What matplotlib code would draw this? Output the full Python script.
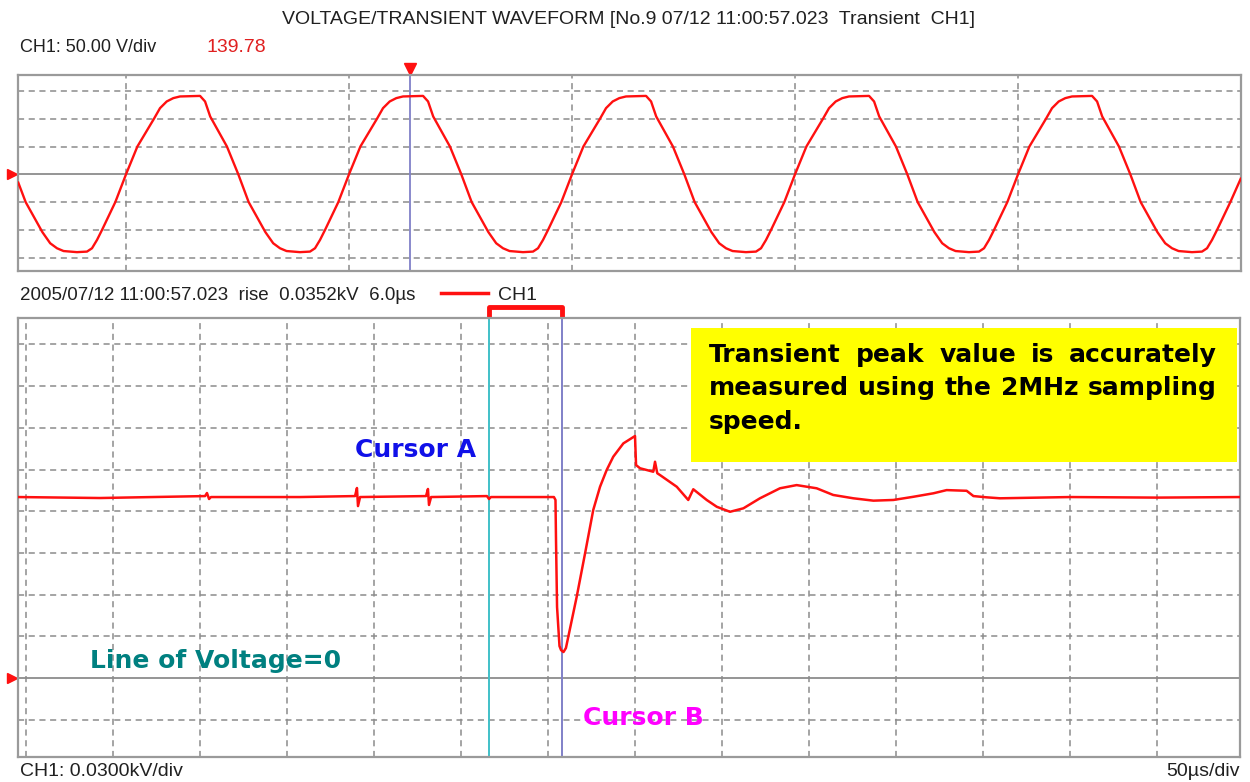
import matplotlib
matplotlib.use("Agg")
import matplotlib.pyplot as plt
from matplotlib.transforms import blended_transform_factory
from matplotlib.patches import Rectangle

# upper window: voltage waveform, time in ms, volts (50 V/div)
top_t = [-9.66, -9.0, -7.5, -6.8, -6.19, -5.6, -4.4, -3.5, -3.05, -2.6, -2.15, -0.96,
         0, 1.02, 2.51, 3.05, 3.65, 4.24, 4.84, 6.64, 7.09, 7.55, 9.05,
         10.07, 11.0, 12.5, 13.2, 13.81, 14.4, 15.6, 16.5, 16.95, 17.4, 17.85, 19.04,
         20, 21.02, 22.51, 23.05, 23.65, 24.24, 24.84, 26.64, 27.09, 27.55, 29.05,
         30.07, 31.0, 32.5, 33.2, 33.81, 34.4, 35.6, 36.5, 36.95, 37.4, 37.85, 39.04,
         40, 41.02, 42.51, 43.05, 43.65, 44.24, 44.84, 46.64, 47.09, 47.55, 49.05,
         50.07, 51.0, 52.5, 53.2, 53.81, 54.4, 55.6, 56.5, 56.95, 57.4, 57.85, 59.04,
         60, 61.02, 62.51, 63.05, 63.65, 64.24, 64.84, 66.64, 67.09, 67.55, 69.05,
         70.07, 71.0, 72.5, 73.2, 73.81, 74.4, 75.6, 76.5, 76.95, 77.4, 77.85, 79.04,
         80, 81.02, 82.51, 83.05, 83.65, 84.24, 84.84, 86.64, 87.09, 87.55, 89.05,
         90.07, 91.0, 92.5, 93.2, 93.81, 94.4, 95.6, 96.5, 96.95, 97.4, 97.85, 99.04, 99.97]
top_v = [-15, -50, -104, -124, -133, -138, -140, -139, -133, -118, -100, -50,
         0, 50, 100, 119, 131, 137, 140, 141, 131, 104, 50,
         0, -50, -104, -124, -133, -138, -140, -139, -133, -118, -100, -50,
         0, 50, 100, 119, 131, 137, 140, 141, 131, 104, 50,
         0, -50, -104, -124, -133, -138, -140, -139, -133, -118, -100, -50,
         0, 50, 100, 119, 131, 137, 140, 141, 131, 104, 50,
         0, -50, -104, -124, -133, -138, -140, -139, -133, -118, -100, -50,
         0, 50, 100, 119, 131, 137, 140, 141, 131, 104, 50,
         0, -50, -104, -124, -133, -138, -140, -139, -133, -118, -100, -50,
         0, 50, 100, 119, 131, 137, 140, 141, 131, 104, 50,
         0, -50, -104, -124, -133, -138, -140, -139, -133, -118, -100, -50, -8]

# lower window: transient, time in us, volts (30 V/div)
tr_t = [-4.4, 42.5, 102.9, 104.0, 105.2, 106.3, 157.5, 189.1, 190.2, 190.8, 192.0,
        229.9, 231.0, 231.6, 232.8, 264.9, 266.1, 267.2, 303.4, 304.3, 304.6,
        305.2, 306.6, 307.5, 308.9, 310.3, 316.5, 321.3, 326.0, 329.9, 333.7,
        337.5, 343.3, 350.0, 350.6, 352.9, 360.5, 361.5, 362.8, 364.4, 374.0,
        380.6, 383.5, 391.2, 397.0, 404.6, 412.3, 421.8, 433.3, 442.9, 454.4,
        463.9, 475.5, 487.0, 498.5, 510.0, 521.5, 529.1, 540.6, 544.5, 552.1,
        559.8, 600.0, 650.0, 697.7]
tr_v = [130.2, 129.5, 130.9, 133.1, 128.8, 130.2, 130.2, 130.9, 136.7, 123.7, 130.2,
        130.9, 136.0, 124.5, 130.2, 130.9, 128.8, 130.2, 130.2, 128.1, 99.3,
        51.1, 23.0, 20.1, 18.7, 21.6, 58.5, 89.7, 120.9, 137.6, 149.6,
        159.2, 168.8, 174.1, 153.2, 150.9, 148.4, 155.6, 147.3, 146.0, 137.6,
        128.1, 135.8, 128.1, 123.2, 119.6, 122.1, 129.3, 136.5, 138.8, 136.5,
        131.7, 129.3, 127.6, 128.1, 130.4, 132.9, 135.2, 134.7, 130.9, 130.0,
        129.3, 130.2, 129.8, 130.2]

top_xgrid = [0, 20, 40, 60, 80]
top_ygrid = [-150, -100, -50, 50, 100, 150]
bot_xgrid = [0, 50, 100, 150, 200, 250, 300, 350, 400, 450, 500, 550, 600, 650]
bot_ygrid = [-30, 30, 60, 90, 120, 150, 180, 210, 240]

top_cursor = 25.47
cursor_a = 265.9
cursor_b = 308.2

title = "VOLTAGE/TRANSIENT WAVEFORM [No.9 07/12 11:00:57.023  Transient  CH1]"
line1 = "Transient peak value is accurately".split()
line2 = "measured using the 2MHz sampling".split()

W, H = 1250, 782
fig = plt.figure(figsize=(12.5, 7.82), dpi=100)
fig.patch.set_facecolor("white")


def fx(px):
    return px / W


def fy(py):
    return 1 - py / H


def scope(ax, xg, yg):
    for s in ax.spines.values():
        s.set_color("#9a9a9a")
        s.set_linewidth(1.6)
    ax.set_xticks(xg)
    ax.set_yticks(yg)
    ax.tick_params(length=0, labelbottom=False, labelleft=False)
    ax.grid(True, color="#8c8c8c", linestyle=(0, (4, 3)), linewidth=1.1)
    ax.axhline(0, color="#8c8c8c", lw=1.3, zorder=1)


ax1 = fig.add_axes([fx(18.3), fy(271), fx(1240.7) - fx(18.3), (271 - 75) / H])
ax1.set_xlim(-9.66, 99.97)
ax1.set_ylim(-173.9, 178.6)
scope(ax1, top_xgrid, top_ygrid)
ax1.axvline(top_cursor, color="#8080c8", lw=1.3, zorder=2)
ax1.plot(top_t, top_v, color="#ff1010", lw=1.7, zorder=3, solid_joinstyle="round")
tb1 = blended_transform_factory(ax1.transData, ax1.transAxes)
ax1.plot([top_cursor], [1.032], marker="v", color="#ff1010", ms=8, transform=tb1, clip_on=False)
lb1 = blended_transform_factory(ax1.transAxes, ax1.transData)
ax1.plot([-0.005], [0], marker=">", color="#ff1010", ms=7, transform=lb1, clip_on=False)

ax2 = fig.add_axes([fx(18.3), fy(757), fx(1240) - fx(18.3), (757 - 318) / H])
ax2.set_xlim(-4.43, 697.7)
ax2.set_ylim(-56.8, 259.0)
scope(ax2, bot_xgrid, bot_ygrid)
ax2.axvline(cursor_a, color="#40c0c8", lw=1.4, zorder=2)
ax2.axvline(cursor_b, color="#8080c8", lw=1.4, zorder=2)
ax2.plot(tr_t, tr_v, color="#ff1010", lw=1.8, zorder=3, solid_joinstyle="round")
tb2 = blended_transform_factory(ax2.transData, ax2.transAxes)
ax2.plot([cursor_a, cursor_a, cursor_b, cursor_b], [1.002, 1.024, 1.024, 1.002],
         color="#ff1010", lw=3.5, transform=tb2, clip_on=False, solid_capstyle="butt")
lb2 = blended_transform_factory(ax2.transAxes, ax2.transData)
ax2.plot([-0.005], [0], marker=">", color="#ff1010", ms=7, transform=lb2, clip_on=False)

small = dict(family=["Liberation Sans", "DejaVu Sans"], fontsize=14,
             va="center", color="#202020")
fig.text(fx(629), fy(20), title, ha="center", **small)
fig.text(fx(20), fy(48), "CH1: 50.00 V/div", ha="left", **{**small, "fontsize": 13})
fig.text(fx(206), fy(48), "139.78", ha="left", **{**small, "color": "#e02020"})
fig.text(fx(20), fy(295), "2005/07/12 11:00:57.023  rise  0.0352kV  6.0\u00b5s", ha="left",
         **{**small, "fontsize": 13.5})
fig.add_artist(plt.Line2D([fx(441), fx(488)], [fy(293), fy(293)], color="#ff1010", lw=2.5))
fig.text(fx(498), fy(295), "CH1", ha="left", **small)
fig.text(fx(20), fy(772), "CH1: 0.0300kV/div", ha="left", **small)
fig.text(fx(1240), fy(772), "50\u00b5s/div", ha="right", **small)

bold = dict(family="DejaVu Sans", fontweight="bold", fontsize=18, va="center")
fig.text(fx(355), fy(450), "Cursor A", ha="left", color="#1010e8", **bold)
fig.text(fx(90), fy(661), "Line of Voltage=0", ha="left", color="#008080", **bold)
fig.text(fx(583), fy(718), "Cursor B", ha="left", color="#ff00ff", **bold)

fig.add_artist(Rectangle((fx(691), fy(462)), fx(1237) - fx(691), (462 - 328) / H,
                         transform=fig.transFigure, facecolor="#ffff00", edgecolor="none", zorder=5))

renderer = fig.canvas.get_renderer()


def justify(words, x0, x1, y):
    texts = [fig.text(0, fy(y), w, ha="left", color="black", zorder=6, **bold) for w in words]
    widths = [t.get_window_extent(renderer).width for t in texts]
    gap = (x1 - x0 - sum(widths)) / (len(words) - 1)
    x = x0
    for t, w in zip(texts, widths):
        t.set_x(fx(x))
        x += w + gap


justify(line1, 709, 1217, 355)
justify(line2, 709, 1217, 388)
fig.text(fx(709), fy(422), "speed.", ha="left", color="black", zorder=6, **bold)

fig.savefig("out.png", dpi=100)
